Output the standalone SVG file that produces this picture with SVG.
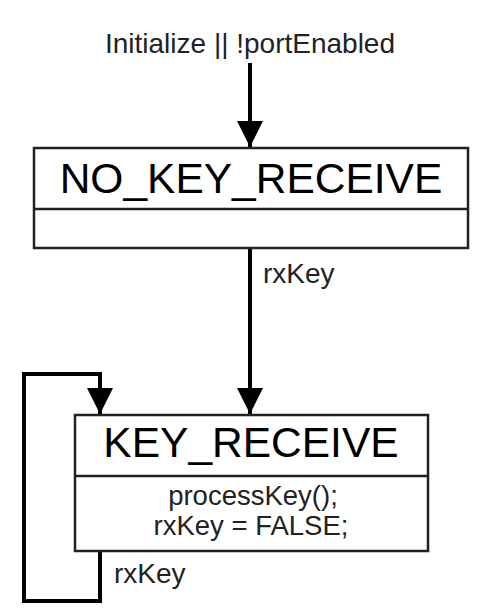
<svg xmlns="http://www.w3.org/2000/svg" width="492" height="616" viewBox="0 0 492 616">
<style>
.box{fill:#fff;stroke:#222;stroke-width:2.5}
.div{stroke:#222;stroke-width:2.5}
.title{font-family:"Liberation Sans",Arial,sans-serif;font-size:42.5px;fill:#000;text-anchor:middle}
.lbl{font-family:"Liberation Sans",Arial,sans-serif;font-size:28px;fill:#222}
.body{font-family:"Liberation Sans",Arial,sans-serif;font-size:27.5px;fill:#222;text-anchor:middle}
.edge{fill:none;stroke:#000;stroke-width:4}
</style>
<defs>
<marker id="ah" markerUnits="userSpaceOnUse" markerWidth="26" markerHeight="27" refX="26" refY="13" orient="auto" viewBox="0 0 26 26">
<path d="M0,0 L26,13 L0,26 Z" fill="#000"/>
</marker>
</defs>
<rect width="492" height="616" fill="#fff"/>
<g id="connectors">
<path class="edge" d="M250,63 V147" marker-end="url(#ah)"/>
<path class="edge" d="M250,248 V414" marker-end="url(#ah)"/>
<path class="edge" d="M100,551 V601 H24 V374 H100 V414" marker-end="url(#ah)"/>
<text class="lbl" x="250" y="53" text-anchor="middle">Initialize || !portEnabled</text>
<text class="lbl" x="263" y="283">rxKey</text>
<text class="lbl" x="114" y="583">rxKey</text>
</g>
<g id="NO_KEY_RECEIVE">
<rect class="box" x="34" y="148" width="434" height="100"/>
<line class="div" x1="34" y1="209" x2="468" y2="209"/>
<text class="title" x="251" y="193">NO_KEY_RECEIVE</text>
</g>
<g id="KEY_RECEIVE">
<rect class="box" x="75" y="415" width="353" height="136"/>
<line class="div" x1="75" y1="476" x2="428" y2="476"/>
<text class="title" x="251" y="457">KEY_RECEIVE</text>
<text class="body" x="253" y="505">processKey();</text>
<text class="body" x="251" y="535">rxKey = FALSE;</text>
</g>
</svg>
